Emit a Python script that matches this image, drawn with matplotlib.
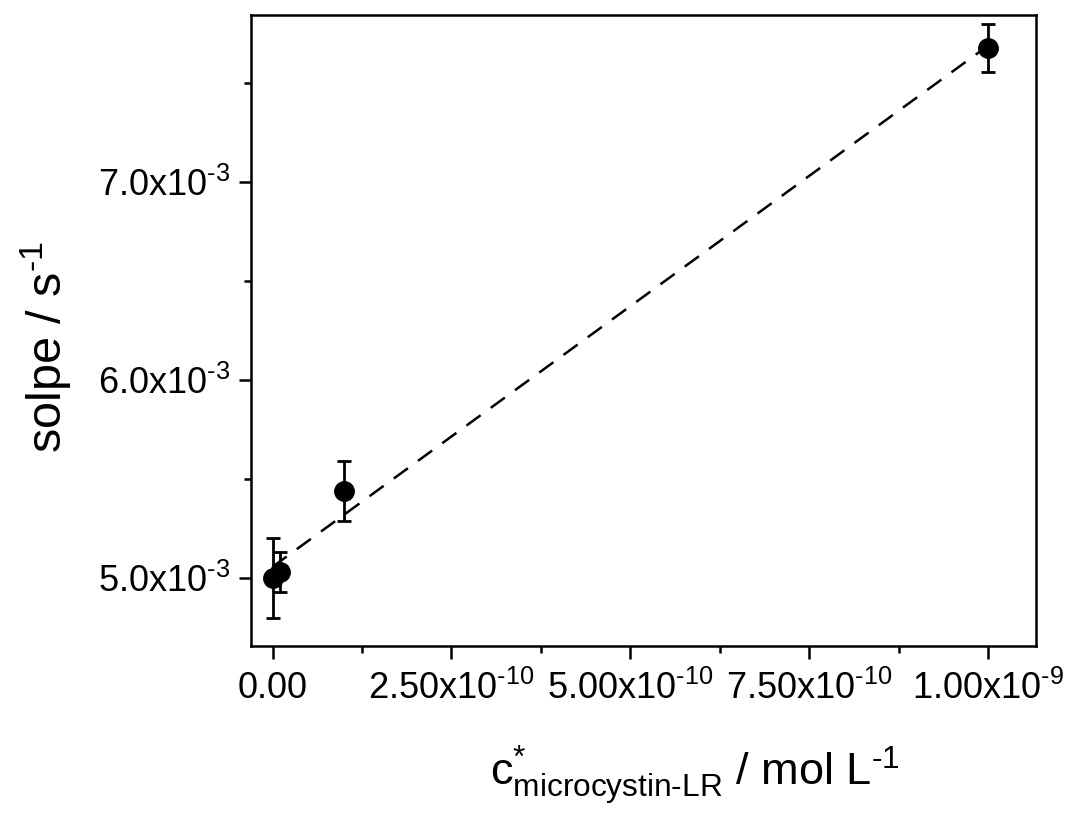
import numpy as np
import matplotlib
matplotlib.use("Agg")
import matplotlib.pyplot as plt
from matplotlib.ticker import FixedLocator, MultipleLocator

plt.rcParams['font.family'] = ['Liberation Sans', 'DejaVu Sans']
plt.rcParams['mathtext.fontset'] = 'custom'
plt.rcParams['mathtext.rm'] = 'Liberation Sans'
plt.rcParams['mathtext.it'] = 'Liberation Sans'

# concentration of microcystin-LR (mol/L) and measured slope (1/s)
conc = [0.0, 1e-11, 1e-10, 1e-9]
slope = [5.00e-3, 5.03e-3, 5.44e-3, 7.675e-3]
slope_err = [0.20e-3, 0.10e-3, 0.15e-3, 0.12e-3]

x_ticks = [0.0, 2.5e-10, 5.0e-10, 7.5e-10, 1.0e-9]
x_ticklabels = ['0.00', r'2.50x10$^{\text{-10}}$', r'5.00x10$^{\text{-10}}$',
                r'7.50x10$^{\text{-10}}$', r'1.00x10$^{\text{-9}}$']
y_ticks = [5.0e-3, 6.0e-3, 7.0e-3]
y_ticklabels = [r'5.0x10$^{\text{-3}}$', r'6.0x10$^{\text{-3}}$',
                r'7.0x10$^{\text{-3}}$']

# linear fit
k, b = np.polyfit(conc, slope, 1)
xfit = np.array([min(conc), max(conc)])

fig = plt.figure(figsize=(10.66, 8.14), dpi=100)
ax = fig.add_axes([0.2355, 0.2064, 0.7364, 0.7752])

ax.plot(xfit, k * xfit + b, color='black', lw=1.8, dashes=(7, 5), zorder=1)
ax.errorbar(conc, slope, yerr=slope_err, fmt='o', color='black', ms=14,
            ecolor='black', elinewidth=2, capsize=5, capthick=2, zorder=3)

ax.set_xlim(-3.0e-11, 1.067e-9)
ax.set_ylim(4.657e-3, 7.841e-3)

ax.xaxis.set_major_locator(FixedLocator(x_ticks))
ax.set_xticklabels(x_ticklabels)
ax.xaxis.set_minor_locator(MultipleLocator(1.25e-10))
ax.yaxis.set_major_locator(FixedLocator(y_ticks))
ax.set_yticklabels(y_ticklabels)
ax.yaxis.set_minor_locator(MultipleLocator(0.5e-3))

ax.tick_params(which='both', direction='out', width=1.8, labelsize=26,
               top=False, right=False)
ax.tick_params(which='major', length=9)
ax.tick_params(axis='x', which='major', pad=9)
ax.tick_params(axis='y', which='major', pad=6)
ax.tick_params(which='minor', length=5)
for s in ax.spines.values():
    s.set_linewidth(1.8)

ax.set_ylabel(r'solpe / s$^{\text{-1}}$', fontsize=35)
ax.yaxis.set_label_coords(-0.2256, 0.474)
ax.set_xlabel(r'c$^{*}_{\text{microcystin-LR}}$ / mol L$^{\text{-1}}$', fontsize=32.5)
ax.xaxis.set_label_coords(0.566, -0.155)

fig.savefig('out.png', dpi=100)
